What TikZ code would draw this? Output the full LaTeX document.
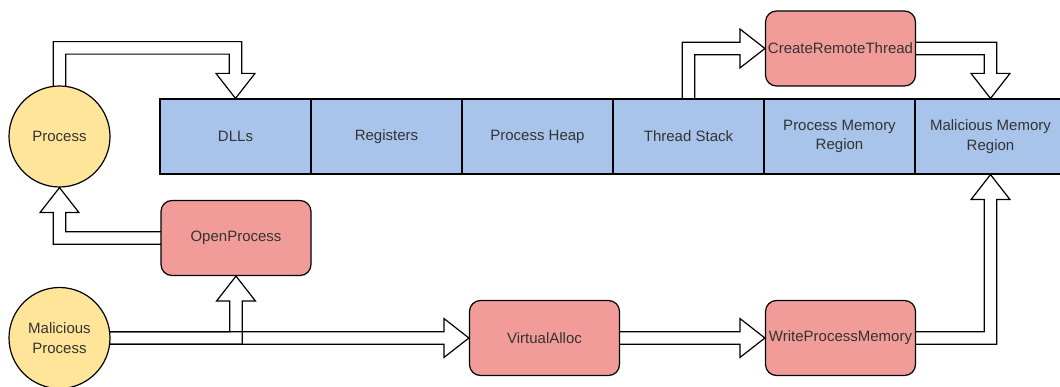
\documentclass[tikz,border=0pt]{standalone}
\usepackage{fontspec}
\setmainfont{Liberation Sans}
\usetikzlibrary{calc}
\pgfdeclarelayer{background}
\pgfsetlayers{background,main}
\definecolor{memblue}{HTML}{A9C4EB}
\definecolor{apired}{HTML}{F19C99}
\definecolor{procyellow}{HTML}{FFE599}
\definecolor{ink}{HTML}{333333}

\begin{document}
\begin{tikzpicture}[x=1pt,y=-1pt,
  every node/.style={font=\fontsize{15}{19.5}\selectfont, text=ink, align=center, inner sep=0pt},
  outline/.style={draw=black, line width=1.2pt},
  cell/.style={outline, fill=memblue, minimum width=151pt, minimum height=75pt},
  apicall/.style={outline, fill=apired, rounded corners=11pt, minimum width=150pt, minimum height=75pt},
  procnode/.style={outline, circle, fill=procyellow, minimum size=101pt},
  flex/.style={draw=black, line width=1.2pt, line join=miter}
]
\useasboundingbox (0,0) rectangle (1060,387);

% shaft half width, head half width, head length
\def\sw{6.25}
\def\hw{19.5}
\def\hl{25}

% processes
\node[procnode] (proc) at (59.5,136.5) {Process};
\node[procnode] (mal)  at (59.5,338) {Malicious\\Process};

% memory layout of the target process
\node[cell] (dll)  at (235.5,136.5) {DLLs};
\node[cell] (reg)  at (386.5,136.5) {Registers};
\node[cell] (heap) at (537.5,136.5) {Process Heap};
\node[cell] (ts)   at (688.5,136.5) {Thread Stack};
\node[cell] (pmr)  at (839.5,136.5) {Process Memory\\Region};
\node[cell] (mmr)  at (990.5,136.5) {Malicious Memory\\Region};

% API calls
\node[apicall] (open) at (236,238)    {OpenProcess};
\node[apicall] (va)   at (544.5,338)  {VirtualAlloc};
\node[apicall] (wpm)  at (840.5,338)  {WriteProcessMemory};
\node[apicall] (crt)  at (840.5,48.5) {CreateRemoteThread};

% bend points of the hollow arrows
\coordinate (k1) at ($(proc.north)+(0,-37.5)$);
\coordinate (k1b) at (k1 -| dll.north);
\coordinate (k2) at (proc.south |- open.west);
\coordinate (k4) at (open.south |- mal.east);
\coordinate (k6) at (mmr.south |- wpm.east);
\coordinate (k7) at (ts.north |- crt.west);
\coordinate (k8) at (mmr.north |- crt.east);

\begin{pgfonlayer}{background}
\fill[white] (0,0) rectangle (1060,387);

% Process -> DLLs
\draw[flex] ($(proc.north)+(-\sw,8)$) -- ($(k1)+(-\sw,-\sw)$) -- ($(k1b)+(\sw,-\sw)$)
  -- ($(dll.north)+(\sw,-\hl)$) -- ($(dll.north)+(\hw,-\hl)$) -- (dll.north)
  -- ($(dll.north)+(-\hw,-\hl)$) -- ($(dll.north)+(-\sw,-\hl)$)
  -- ($(k1b)+(-\sw,\sw)$) -- ($(k1)+(\sw,\sw)$) -- ($(proc.north)+(\sw,8)$) -- cycle;

% OpenProcess -> Process
\draw[flex] ($(open.west)+(8,-\sw)$) -- ($(k2)+(\sw,-\sw)$)
  -- ($(proc.south)+(\sw,\hl)$) -- ($(proc.south)+(\hw,\hl)$) -- (proc.south)
  -- ($(proc.south)+(-\hw,\hl)$) -- ($(proc.south)+(-\sw,\hl)$)
  -- ($(k2)+(-\sw,\sw)$) -- ($(open.west)+(8,\sw)$) -- cycle;

% Malicious Process -> VirtualAlloc
\draw[flex] ($(mal.east)+(-8,-\sw)$) -- ($(va.west)+(-\hl,-\sw)$)
  -- ($(va.west)+(-\hl,-\hw)$) -- (va.west) -- ($(va.west)+(-\hl,\hw)$)
  -- ($(va.west)+(-\hl,\sw)$) -- ($(mal.east)+(-8,\sw)$) -- cycle;

% Malicious Process -> OpenProcess
\draw[flex] ($(mal.east)+(-8,-\sw)$) -- ($(k4)+(-\sw,-\sw)$)
  -- ($(open.south)+(-\sw,\hl)$) -- ($(open.south)+(-\hw,\hl)$) -- (open.south)
  -- ($(open.south)+(\hw,\hl)$) -- ($(open.south)+(\sw,\hl)$)
  -- ($(k4)+(\sw,\sw)$) -- ($(mal.east)+(-8,\sw)$) -- cycle;

% VirtualAlloc -> WriteProcessMemory
\draw[flex] ($(va.east)+(-8,-\sw)$) -- ($(wpm.west)+(-\hl,-\sw)$)
  -- ($(wpm.west)+(-\hl,-\hw)$) -- (wpm.west) -- ($(wpm.west)+(-\hl,\hw)$)
  -- ($(wpm.west)+(-\hl,\sw)$) -- ($(va.east)+(-8,\sw)$) -- cycle;

% WriteProcessMemory -> Malicious Memory Region
\draw[flex] ($(wpm.east)+(-8,-\sw)$) -- ($(k6)+(-\sw,-\sw)$)
  -- ($(mmr.south)+(-\sw,\hl)$) -- ($(mmr.south)+(-\hw,\hl)$) -- (mmr.south)
  -- ($(mmr.south)+(\hw,\hl)$) -- ($(mmr.south)+(\sw,\hl)$)
  -- ($(k6)+(\sw,\sw)$) -- ($(wpm.east)+(-8,\sw)$) -- cycle;

% Thread Stack -> CreateRemoteThread
\draw[flex] ($(ts.north)+(-\sw,8)$) -- ($(k7)+(-\sw,-\sw)$)
  -- ($(crt.west)+(-\hl,-\sw)$) -- ($(crt.west)+(-\hl,-\hw)$) -- (crt.west)
  -- ($(crt.west)+(-\hl,\hw)$) -- ($(crt.west)+(-\hl,\sw)$)
  -- ($(k7)+(\sw,\sw)$) -- ($(ts.north)+(\sw,8)$) -- cycle;

% CreateRemoteThread -> Malicious Memory Region
\draw[flex] ($(crt.east)+(-8,-\sw)$) -- ($(k8)+(\sw,-\sw)$)
  -- ($(mmr.north)+(\sw,-\hl)$) -- ($(mmr.north)+(\hw,-\hl)$) -- (mmr.north)
  -- ($(mmr.north)+(-\hw,-\hl)$) -- ($(mmr.north)+(-\sw,-\hl)$)
  -- ($(k8)+(-\sw,\sw)$) -- ($(crt.east)+(-8,\sw)$) -- cycle;
\end{pgfonlayer}
\end{tikzpicture}
\end{document}
